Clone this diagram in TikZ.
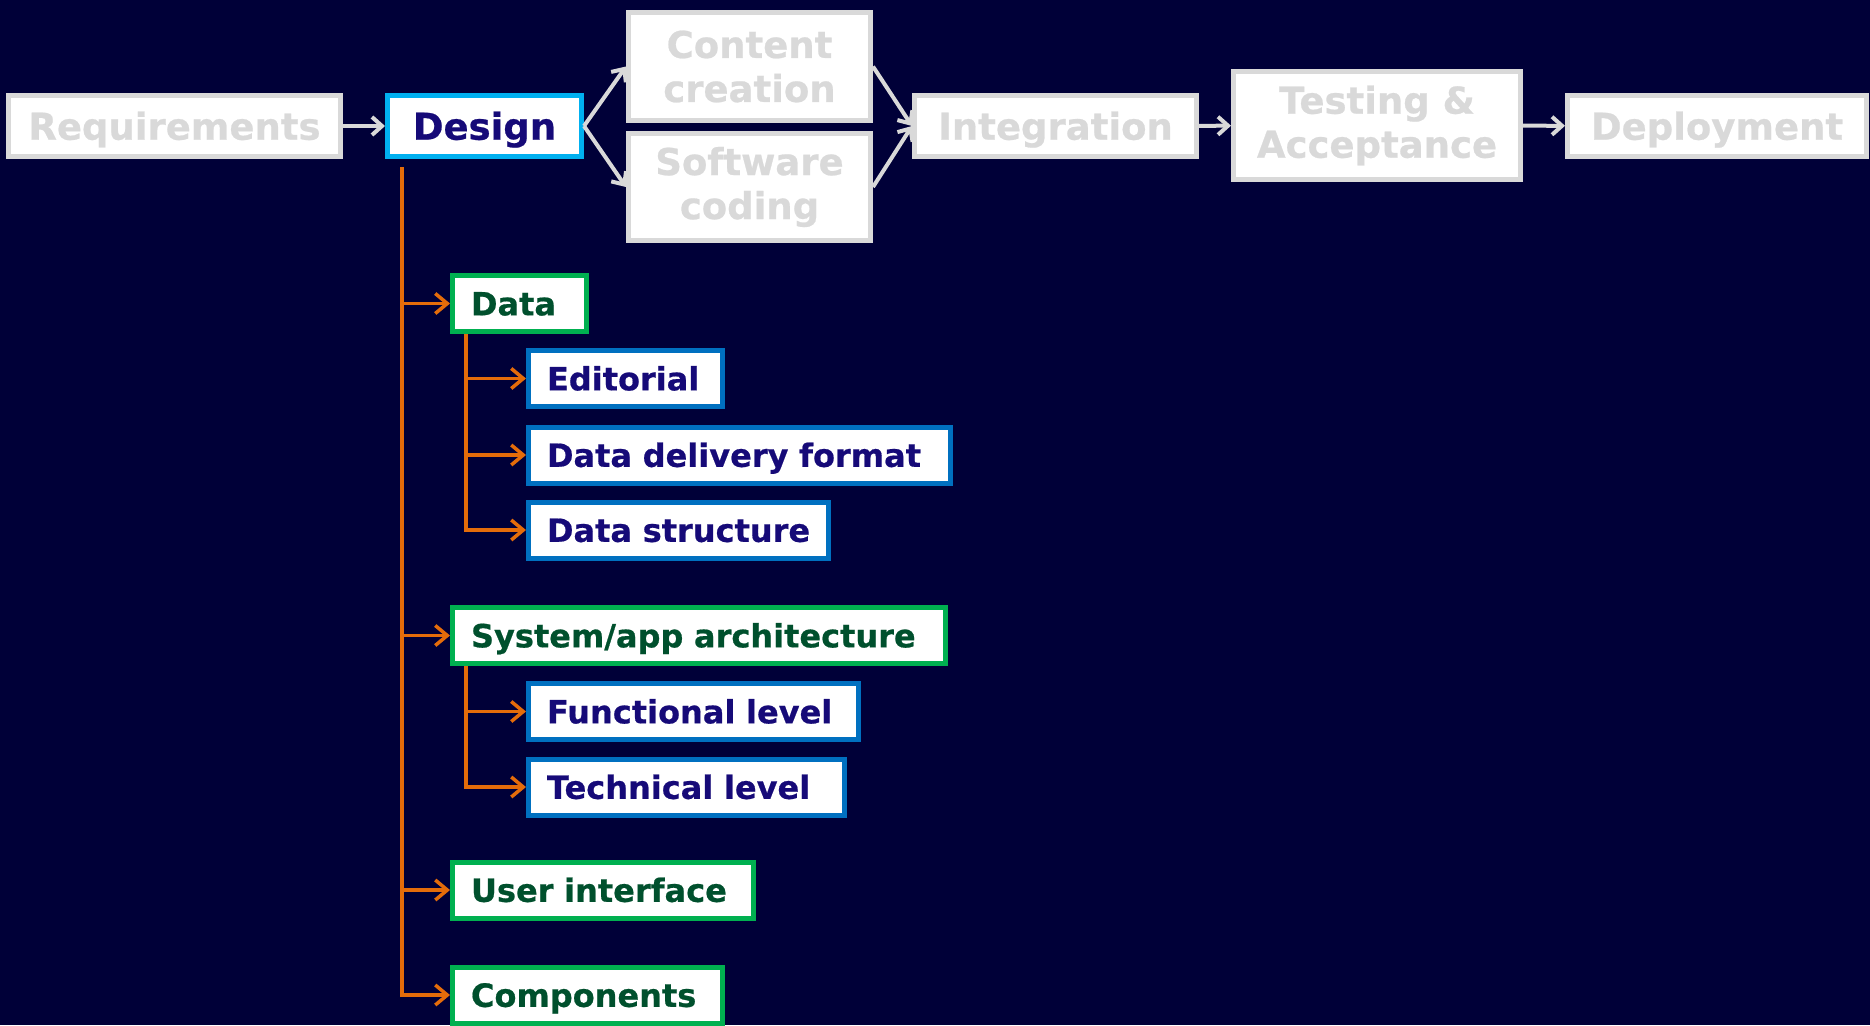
\documentclass[tikz,border=0pt]{standalone}
\usepackage{fontspec}
\setmainfont{DejaVu Sans}[BoldFeatures={FakeBold=0.6}]
\usetikzlibrary{arrows.meta}
\hyphenpenalty=10000
\exhyphenpenalty=10000
\definecolor{bgnavy}{HTML}{000038}
\definecolor{stagegray}{HTML}{D9D9D9}
\definecolor{designcyan}{HTML}{00B0F0}
\definecolor{itemnavy}{HTML}{160A78}
\definecolor{topicgreen}{HTML}{00B050}
\definecolor{topictext}{HTML}{00502D}
\definecolor{leafblue}{HTML}{0070C0}
\definecolor{branchorange}{HTML}{E46C0A}
\tikzset{
  stage/.style={draw=stagegray, line width=5pt, fill=white, text=stagegray,
    font=\bfseries\fontsize{37}{44}\selectfont, align=center,
    minimum height=61pt, inner sep=0pt},
  single/.style={stage, text height=27.4pt, text depth=0pt},
  current/.style={single, draw=designcyan, text=itemnavy},
  topic/.style={draw=topicgreen, line width=5pt, fill=white, text=topictext,
    font=\bfseries\fontsize{32}{38}\selectfont, minimum height=56pt,
    text height=23.7pt, text depth=0pt,
    inner xsep=18.5pt, inner ysep=0pt, anchor=west, align=left, text width=#1},
  leaf/.style={topic=#1, draw=leafblue, text=itemnavy},
  flow/.style={draw=stagegray, line width=4pt, -{Straight Barb[length=10pt,width=18pt]}},
  branch/.style={draw=branchorange, line width=3.5pt, -{Straight Barb[length=12pt,width=20pt]}}
}
\begin{document}
\begin{tikzpicture}[x=1pt,y=-1pt]
  \fill[bgnavy] (0,0) rectangle (1870,1025);
  \useasboundingbox (0,0) rectangle (1870,1025);
  \node[single, minimum width=332pt] (req) at (174.5,126) {Requirements};
  \node[current, minimum width=194pt] (design) at (484.5,126) {Design};
  \node[stage, minimum width=242pt, minimum height=108pt] (content) at (749.5,66.5) {Content\\creation};
  \node[stage, minimum width=242pt, minimum height=107pt] (coding) at (749.5,187) {Software\\coding};
  \node[single, minimum width=282pt] (integ) at (1055.5,126) {Integration};
  \node[stage, minimum width=287pt, minimum height=108pt] (testing) at (1377,125.5) {Testing \&\\Acceptance};
  \node[single, minimum width=299pt] (deploy) at (1717,126) {Deployment};
  \draw[flow] (req) -- (design);
  \draw[flow] (design.east) -- (content.west);
  \draw[flow] (design.east) -- (coding.west);
  \draw[flow] (content.east) -- (integ.west);
  \draw[flow] (coding.east) -- (integ.west);
  \draw[flow] (integ) -- (testing);
  \draw[flow] (testing) -- (deploy);
  \node[topic=97pt] (data) at (450,303.5) {Data};
  \node[leaf=157pt] (editorial) at (526,378.5) {Editorial};
  \node[leaf=385pt] (delivery) at (526,455) {Data~delivery~format};
  \node[leaf=263pt] (structure) at (526,530) {Data~structure};
  \node[topic=456pt] (arch) at (450,635.5) {System/app~architecture};
  \node[leaf=293pt] (functional) at (526,711.5) {Functional~level};
  \node[leaf=279pt] (technical) at (526,787) {Technical~level};
  \node[topic=264pt] (ui) at (450,890) {User~interface};
  \node[topic=233pt] (components) at (450,995) {Components};
  \coordinate (trunk) at ([xshift=17pt,yshift=-8pt]design.south west);
  \coordinate (datatrunk) at ([xshift=16pt]data.south west);
  \coordinate (archtrunk) at ([xshift=16pt]arch.south west);
  \foreach \target in {data,arch,ui,components}
    \draw[branch] (trunk) |- (\target.west);
  \foreach \target in {editorial,delivery,structure}
    \draw[branch] (datatrunk) |- (\target.west);
  \foreach \target in {functional,technical}
    \draw[branch] (archtrunk) |- (\target.west);
\end{tikzpicture}
\end{document}
